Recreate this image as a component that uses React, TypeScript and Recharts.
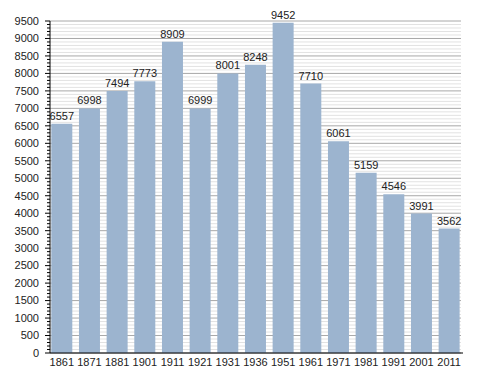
import { BarChart, Bar, XAxis, YAxis, CartesianGrid, LabelList } from 'recharts';

const years = ['1861', '1871', '1881', '1901', '1911', '1921', '1931', '1936', '1951', '1961', '1971', '1981', '1991', '2001', '2011'];
const population = [6557, 6998, 7494, 7773, 8909, 6999, 8001, 8248, 9452, 7710, 6061, 5159, 4546, 3991, 3562];
const yTicks = Array.from({ length: 96 }, (_, i) => i * 100);

const data = years.map((year, i) => ({ year, value: population[i] }));

const FONT = 'Liberation Sans, Arial, sans-serif';

// y ticks: long mark + label every 500, short mark every 100
function YTick(props: any) {
  const { x, y, payload } = props;
  const major = payload.value % 500 === 0;
  const ax = x + 2; // x arrives offset by the default tickMargin
  return (
    <g>
      <line x1={ax - (major ? 5 : 3)} x2={ax} y1={y} y2={y} stroke="#000" strokeWidth={1} />
      {major && (
        <text x={ax - 11} y={y} dy="0.35em" textAnchor="end" fontSize={11} fill="#222" fontFamily={FONT}>
          {payload.value}
        </text>
      )}
    </g>
  );
}

function GridLine(props: any) {
  const { x1, x2, y1, y2, index } = props;
  const major = index % 5 === 0;
  return (
    <line key={`g-${index}`} x1={x1} x2={x2 - 2} y1={y1} y2={y2} stroke={major ? '#a8a8a8' : '#e2e2e2'} strokeWidth={1} />
  );
}

export default function App() {
  return (
    <div style={{ position: 'absolute', left: 0, top: 0, background: '#fff' }}>
      <BarChart
        width={488}
        height={373}
        data={data}
        margin={{ top: 21, right: 25, bottom: 0, left: 0 }}
        barCategoryGap={3.3}
        accessibilityLayer={false}
      >
        <CartesianGrid vertical={false} horizontal={GridLine as any} />
        <XAxis
          dataKey="year"
          tickLine={false}
          tickSize={0}
          tickMargin={5}
          height={20}
          padding={{ left: -2, right: 0 }}
          axisLine={{ stroke: '#000' }}
          tick={{ fontSize: 11, fill: '#222', fontFamily: FONT }}
          interval={0}
        />
        <YAxis
          width={50}
          domain={[0, 9500]}
          ticks={yTicks}
          interval={0}
          tickLine={false}
          tickSize={0}
          axisLine={{ stroke: '#000' }}
          tick={<YTick />}
        />
        <Bar dataKey="value" fill="#9cb4cf" isAnimationActive={false}>
          <LabelList dataKey="value" position="top" offset={4} fontSize={11} fill="#222" fontFamily={FONT} />
        </Bar>
      </BarChart>
    </div>
  );
}
